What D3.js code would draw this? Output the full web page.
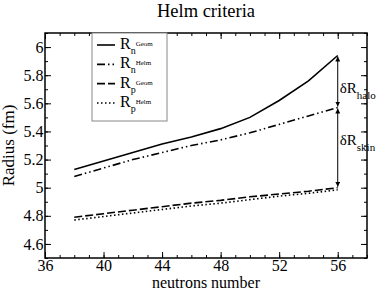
<!DOCTYPE html>
<html>
<head>
<meta charset="utf-8">
<script src="https://cdn.jsdelivr.net/npm/d3@7"></script>
<style>
  html, body { margin: 0; padding: 0; background: #fff; }
  svg text { font-family: "Liberation Serif", "DejaVu Serif", serif; fill: #000; }
</style>
</head>
<body>
<svg id="chart" width="377" height="291"></svg>
<script>
// neutron numbers sampled in the figure
const neutrons = [38, 40, 42, 44, 46, 48, 50, 52, 54, 56];

// radii (fm)
const rnGeom = [5.13, 5.19, 5.25, 5.31, 5.36, 5.42, 5.50, 5.62, 5.76, 5.94];
const rnHelm = [5.08, 5.14, 5.20, 5.25, 5.30, 5.34, 5.39, 5.45, 5.51, 5.57];
const rpGeom = [4.79, 4.815, 4.84, 4.865, 4.89, 4.91, 4.935, 4.955, 4.975, 5.0];
const rpHelm = [4.77, 4.795, 4.82, 4.845, 4.87, 4.89, 4.915, 4.94, 4.96, 4.985];

const xTicks = [36, 40, 44, 48, 52, 56];
const yTicks = [4.6, 4.8, 5, 5.2, 5.4, 5.6, 5.8, 6];

const series = [
  { sub: 'n', sup: 'Geom', values: rnGeom, dash: null },
  { sub: 'n', sup: 'Helm', values: rnHelm, dash: '8,3,1.5,3,1.5,3' },
  { sub: 'p', sup: 'Geom', values: rpGeom, dash: '8,3' },
  { sub: 'p', sup: 'Helm', values: rpHelm, dash: '1.5,2.5' },
];

const M = { left: 45, right: 367, top: 33, bottom: 258 };

const x = d3.scaleLinear().domain([36, 58]).range([M.left, M.right]);
const y = d3.scaleLinear().domain([4.5, 6.1]).range([M.bottom, M.top]);

const svg = d3.select('#chart');

svg.append('text')
  .attr('x', (M.left + M.right) / 2).attr('y', 17)
  .attr('text-anchor', 'middle').attr('font-size', 18.5)
  .text('Helm criteria');

// ── axes: ticks pointing inward on all four sides ──
const xMinor = d3.range(36, 59, 1);
const yMinor = d3.range(4.5, 6.11, 0.1).map(v => +v.toFixed(2));

function tickAxis(axisFn, scale, minor, major, transform, labels) {
  const gMinor = svg.append('g').attr('transform', transform)
    .call(axisFn(scale).tickValues(minor).tickSize(-3).tickFormat(''));
  gMinor.select('.domain').remove();
  const g = svg.append('g').attr('transform', transform)
    .call(axisFn(scale).tickValues(major).tickSize(-6).tickPadding(1.5)
      .tickFormat(labels ? d3.format('') : ''));
  g.select('.domain').remove();
  g.selectAll('text').attr('font-size', 16).attr('font-family', '"Liberation Serif", serif');
}

tickAxis(d3.axisBottom, x, xMinor, xTicks, `translate(0,${M.bottom})`, true);
tickAxis(d3.axisTop, x, xMinor, xTicks, `translate(0,${M.top})`, false);
tickAxis(d3.axisLeft, y, yMinor, yTicks, `translate(${M.left},0)`, true);
tickAxis(d3.axisRight, y, yMinor, yTicks, `translate(${M.right},0)`, false);

svg.append('rect')
  .attr('x', M.left).attr('y', M.top)
  .attr('width', M.right - M.left).attr('height', M.bottom - M.top)
  .attr('fill', 'none').attr('stroke', '#000').attr('stroke-width', 1.5);

svg.append('text')
  .attr('x', (M.left + M.right) / 2).attr('y', 288)
  .attr('text-anchor', 'middle').attr('font-size', 16)
  .text('neutrons number');

svg.append('text')
  .attr('transform', `translate(14,${(M.top + M.bottom) / 2}) rotate(-90)`)
  .attr('text-anchor', 'middle').attr('font-size', 17)
  .text('Radius (fm)');

// ── series lines ──
const line = d3.line().x(d => x(d[0])).y(d => y(d[1]));
series.forEach(s => {
  svg.append('path')
    .datum(neutrons.map((n, i) => [n, s.values[i]]))
    .attr('d', line)
    .attr('fill', 'none').attr('stroke', '#000').attr('stroke-width', 1.6)
    .attr('stroke-dasharray', s.dash);
});

// ── double-headed arrows at N=56 ──
const defs = svg.append('defs');
defs.append('marker').attr('id', 'ah').attr('viewBox', '0 0 10 10')
  .attr('refX', 10).attr('refY', 5).attr('markerWidth', 5).attr('markerHeight', 5)
  .attr('orient', 'auto-start-reverse')
  .append('path').attr('d', 'M0,0 L10,5 L0,10 z').attr('fill', '#000');

const last = neutrons.length - 1;
const arrows = [
  { from: rnGeom[last], to: rnHelm[last], label: 'halo', at: 0.72 },
  { from: rnHelm[last], to: rpGeom[last], label: 'skin', at: 0.47 },
];
arrows.forEach(a => {
  svg.append('line')
    .attr('x1', x(56)).attr('x2', x(56))
    .attr('y1', y(a.from) + 1).attr('y2', y(a.to) - 1)
    .attr('stroke', '#000').attr('stroke-width', 1)
    .attr('marker-start', 'url(#ah)').attr('marker-end', 'url(#ah)');
  const t = svg.append('text')
    .attr('x', x(56) + 2)
    .attr('y', y(a.from) + (y(a.to) - y(a.from)) * a.at)
    .attr('font-size', 15);
  t.append('tspan').text('δR');
  t.append('tspan').attr('font-size', 11).attr('dy', 6).text(a.label);
});

// ── legend ──
const lg = { x0: 92, x1: 167, y0: M.top, y1: 121 };
svg.append('rect')
  .attr('x', lg.x0).attr('y', lg.y0)
  .attr('width', lg.x1 - lg.x0).attr('height', lg.y1 - lg.y0)
  .attr('fill', '#fff').attr('stroke', '#888').attr('stroke-width', 1);

const legendY = d3.scalePoint().domain(d3.range(series.length)).range([45, 103]);
series.forEach((s, i) => {
  const yy = legendY(i);
  svg.append('line')
    .attr('x1', 97).attr('x2', 115).attr('y1', yy).attr('y2', yy)
    .attr('stroke', '#000').attr('stroke-width', 1.6)
    .attr('stroke-dasharray', s.dash);
  const t = svg.append('text').attr('x', 120).attr('y', yy + 4).attr('font-size', 16);
  t.append('tspan').text('R');
  t.append('tspan').attr('font-size', 10).attr('dy', 5).text(s.sub);
  t.append('tspan').attr('font-size', 7).attr('dy', -8).text(s.sup);
});
</script>
</body>
</html>
